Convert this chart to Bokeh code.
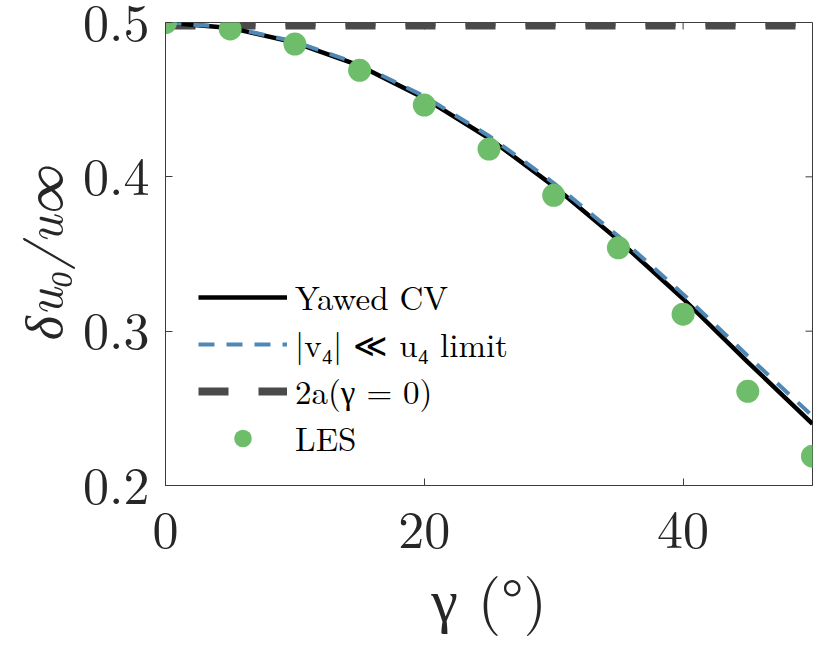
from bokeh.plotting import figure
from bokeh.models import Range1d, FixedTicker, Legend, LegendItem, ColumnDataSource
from bokeh.embed import file_html
from bokeh.resources import INLINE

# ---- data ----
gamma = [0, 5, 10, 15, 20, 25, 30, 35, 40, 45, 50]
yawed_cv = [0.500, 0.4965, 0.487, 0.472, 0.451, 0.425, 0.394, 0.359, 0.321, 0.280, 0.240]
small_v4_limit = [0.500, 0.4968, 0.4876, 0.4728, 0.4522, 0.4265, 0.396, 0.3615, 0.3240, 0.2840, 0.2450]
les = [0.500, 0.4958, 0.486, 0.469, 0.4465, 0.418, 0.388, 0.354, 0.311, 0.261, 0.219]
two_a_gamma0 = 0.5

x_lim = (0, 50)
y_lim = (0.2, 0.5)
x_ticks = [0, 20, 40]
y_ticks = [0.2, 0.3, 0.4, 0.5]

FONT = "Latin Modern Roman"
AX = "#3c3c3c"
GREEN = "#6dbd6a"
BLUE = "#4f87b5"
GRAY = "#4a4a4a"

p = figure(width=823, height=640, output_backend="svg", toolbar_location=None,
           x_range=Range1d(*x_lim), y_range=Range1d(*y_lim),
           min_border_left=165, min_border_right=11, min_border_top=22, min_border_bottom=149)
p.xgrid.visible = False
p.ygrid.visible = False
p.outline_line_color = AX
p.outline_line_width = 1
p.background_fill_color = "white"
p.border_fill_color = "white"

src = ColumnDataSource(dict(g=gamma, cv=yawed_cv, lim=small_v4_limit, les=les))

# ticks on the top and right edges (inward), drawn as short rays from the frame edges
p.ray(x=x_ticks, y=[y_lim[1]] * len(x_ticks), length=7, length_units="screen",
      angle=-90, angle_units="deg", line_color=AX, line_width=1)
p.ray(x=[x_lim[1]] * len(y_ticks), y=y_ticks, length=7, length_units="screen",
      angle=180, angle_units="deg", line_color=AX, line_width=1)

two_x = [gamma[0], gamma[-1]]
two_y = [two_a_gamma0, two_a_gamma0]
r_2a_key = p.line(two_x, two_y, line_color=GRAY, line_width=8, line_dash="30 30")
r_2a = p.line(two_x, two_y, line_color=GRAY, line_width=14, line_dash="30 30")
r_cv = p.line("g", "cv", source=src, line_color="black", line_width=4.5)
r_lim = p.line("g", "lim", source=src, line_color=BLUE, line_width=4, line_dash="16 12")
r_les = p.scatter("g", "les", source=src, size=23, fill_color=GREEN, line_color=None)

def style_axis(ax):
    ax.axis_line_color = AX
    ax.axis_line_width = 1
    ax.major_tick_line_color = AX
    ax.major_tick_in = 7
    ax.major_tick_out = 0
    ax.minor_tick_line_color = None
    ax.major_label_text_font = FONT
    ax.major_label_text_font_size = "52px"
    ax.major_label_text_color = "#262626"

xa = p.xaxis[0]
ya = p.yaxis[0]
xa.ticker = FixedTicker(ticks=x_ticks)
ya.ticker = FixedTicker(ticks=y_ticks)
style_axis(xa)
style_axis(ya)
xa.major_label_standoff = 26
ya.major_label_standoff = 16
xa.axis_label = "γ (°)"
xa.axis_label_text_font = FONT
xa.axis_label_text_font_size = "60px"
xa.axis_label_text_font_style = "normal"
xa.axis_label_text_color = "#262626"
xa.axis_label_standoff = 2
ya.axis_label = "δu₀/u∞"
ya.axis_label_text_font = FONT
ya.axis_label_text_font_size = "52px"
ya.axis_label_text_font_style = "italic"
ya.axis_label_text_color = "#262626"
ya.axis_label_standoff = 3

legend = Legend(items=[
    LegendItem(label="Yawed CV", renderers=[r_cv]),
    LegendItem(label="|v₄| ≪ u₄ limit", renderers=[r_lim]),
    LegendItem(label="2a(γ = 0)", renderers=[r_2a_key]),
    LegendItem(label="LES", renderers=[r_les]),
], location=(33, 24))
legend.glyph_width = 89
legend.glyph_height = 44
legend.label_height = 44
legend.label_standoff = 8
legend.spacing = 0
legend.padding = 0
legend.margin = 0
legend.border_line_alpha = 0
legend.background_fill_alpha = 0
legend.label_text_font = FONT
legend.label_text_font_size = "33px"
legend.label_text_line_height = 1.0
legend.label_text_color = "black"
p.add_layout(legend, "center")

open("out.html", "w").write(file_html(p, INLINE))
